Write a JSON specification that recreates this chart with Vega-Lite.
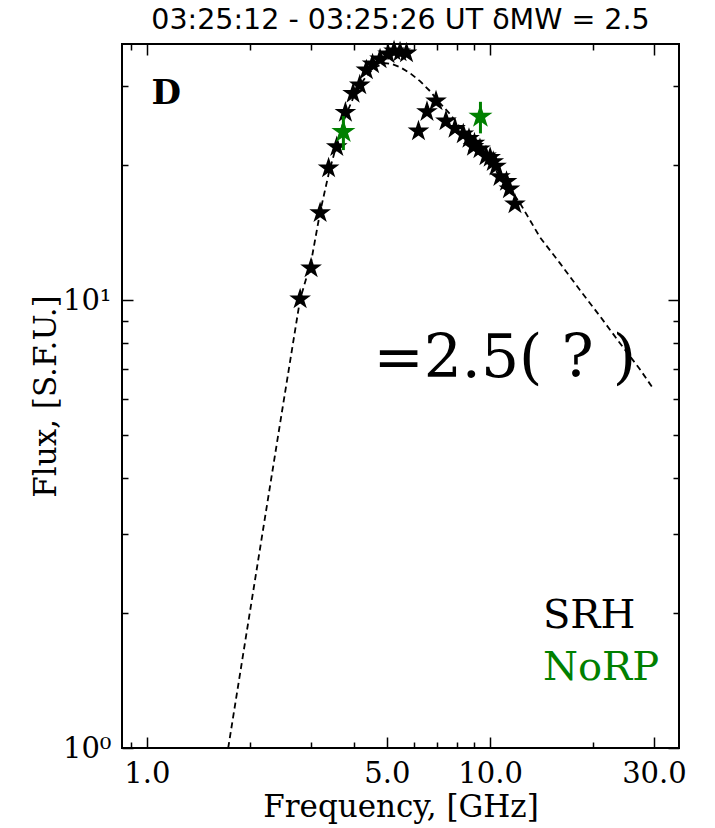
{
  "$schema": "https://vega.github.io/schema/vega-lite/v6.json",
  "width": 557,
  "height": 704,
  "autosize": {"type": "none"},
  "padding": {"left": 122, "top": 44, "right": 36, "bottom": 80},
  "background": "white",
  "title": {"text": "03:25:12 - 03:25:26 UT δMW = 2.5", "font": "DejaVu Sans", "fontSize": 28.5, "fontWeight": "normal", "color": "black", "offset": 5, "anchor": "middle"},
  "config": {
    "view": {"stroke": "black", "strokeWidth": 2},
    "axis": {"domain": false, "grid": false, "tickColor": "black", "tickWidth": 1.5, "labelColor": "black", "titleColor": "black", "labelFont": "DejaVu Serif", "titleFont": "DejaVu Serif", "titleFontWeight": "normal", "labelFlush": false, "labelOverlap": false}
  },
  "datasets": {
    "fit": [
      {"f": 1.725, "flux": 1.0}, {"f": 1.869, "flux": 1.47}, {"f": 2.137, "flux": 2.796}, {"f": 2.444, "flux": 5.314},
      {"f": 2.795, "flux": 10.05}, {"f": 3.008, "flux": 12.16}, {"f": 3.196, "flux": 15.72}, {"f": 3.394, "flux": 19.31},
      {"f": 3.581, "flux": 22.41}, {"f": 3.779, "flux": 25.62}, {"f": 3.987, "flux": 28.24}, {"f": 4.178, "flux": 30.19},
      {"f": 4.379, "flux": 31.78}, {"f": 4.619, "flux": 33.12}, {"f": 4.941, "flux": 33.81}, {"f": 5.178, "flux": 33.64},
      {"f": 5.464, "flux": 33.12}, {"f": 5.842, "flux": 32.11}, {"f": 6.248, "flux": 30.82}, {"f": 6.68, "flux": 29.28},
      {"f": 7.143, "flux": 27.53}, {"f": 7.638, "flux": 26.02}, {"f": 8.167, "flux": 24.33}, {"f": 8.734, "flux": 22.88},
      {"f": 9.339, "flux": 21.51}, {"f": 9.986, "flux": 20.22}, {"f": 10.68, "flux": 18.92}, {"f": 11.42, "flux": 17.69},
      {"f": 12.21, "flux": 16.47}, {"f": 13.96, "flux": 13.82}, {"f": 15.97, "flux": 12.09}, {"f": 18.26, "flux": 10.53},
      {"f": 20.88, "flux": 9.21}, {"f": 23.87, "flux": 8.02}, {"f": 27.3, "flux": 7.01}, {"f": 29.78, "flux": 6.36}
    ],
    "srh": [
      {"f": 2.795, "flux": 10.05}, {"f": 3.008, "flux": 11.79}, {"f": 3.196, "flux": 15.66}, {"f": 3.383, "flux": 19.71},
      {"f": 3.574, "flux": 21.99}, {"f": 3.787, "flux": 26.24}, {"f": 3.987, "flux": 28.93}, {"f": 4.17, "flux": 30.19},
      {"f": 4.359, "flux": 32.62}, {"f": 4.544, "flux": 33.64}, {"f": 4.778, "flux": 34.51}, {"f": 5.042, "flux": 35.41},
      {"f": 5.248, "flux": 35.96}, {"f": 5.464, "flux": 35.78}, {"f": 5.706, "flux": 35.59},
      {"f": 6.183, "flux": 23.84}, {"f": 6.546, "flux": 26.33}, {"f": 6.955, "flux": 27.81}, {"f": 7.434, "flux": 25.09},
      {"f": 7.899, "flux": 24.17}, {"f": 8.35, "flux": 23.48}, {"f": 8.676, "flux": 22.94}, {"f": 8.942, "flux": 22.01},
      {"f": 9.0, "flux": 22.4}, {"f": 9.339, "flux": 21.74}, {"f": 9.723, "flux": 20.96}, {"f": 10.0, "flux": 20.8},
      {"f": 10.21, "flux": 20.36}, {"f": 10.4, "flux": 19.9}, {"f": 10.68, "flux": 18.85}, {"f": 11.16, "flux": 18.39},
      {"f": 11.38, "flux": 17.69}, {"f": 11.81, "flux": 16.38}
    ],
    "norp": [
      {"f": 3.736, "flux": 23.75, "lo": 21.62, "hi": 25.75},
      {"f": 9.37, "flux": 25.68, "lo": 23.56, "hi": 27.71}
    ],
    "legendtext": [
      {"f": 14.25, "flux": 1.853, "text": "SRH", "c": "black"},
      {"f": 14.25, "flux": 1.419, "text": "NoRP", "c": "green"}
    ]
  },
  "layer": [
    {
      "data": {"name": "fit"},
      "mark": {"type": "line", "color": "black", "strokeWidth": 1.8, "strokeDash": [6, 4], "clip": true},
      "encoding": {
        "x": {"field": "f", "type": "quantitative", "scale": {"type": "log", "domain": [0.846, 35.5], "nice": false},
          "axis": {"orient": "bottom", "values": [1, 5, 10, 30], "tickSize": -11, "labelPadding": 22, "labelFontSize": 29, "labelExpr": "format(datum.value, '.1f')", "title": "Frequency, [GHz]", "titleFontSize": 31, "titlePadding": 4}},
        "y": {"field": "flux", "type": "quantitative", "scale": {"type": "log", "domain": [1, 37.3], "nice": false},
          "axis": {"orient": "left", "values": [1, 10], "tickSize": -11, "labelPadding": 22, "labelFontSize": 29, "labelExpr": "datum.value == 1 ? '10⁰' : '10¹'", "title": "Flux, [S.F.U.]", "titleFontSize": 31, "titlePadding": 0}}
      }
    },
    {
      "data": {"name": "srh"},
      "mark": {"type": "point", "shape": "M0,-1L0.2245,-0.309L0.9511,-0.309L0.3633,0.118L0.5878,0.809L0,0.382L-0.5878,0.809L-0.3633,0.118L-0.9511,-0.309L-0.2245,-0.309Z", "filled": true, "color": "black", "size": 520, "opacity": 1},
      "encoding": {
        "x": {"field": "f", "type": "quantitative", "axis": {"orient": "top", "values": [1, 5, 10, 30], "tickSize": -11, "labels": false, "title": null}},
        "y": {"field": "flux", "type": "quantitative", "axis": {"orient": "right", "values": [1, 10], "tickSize": -11, "labels": false, "title": null}}
      }
    },
    {
      "data": {"name": "norp"},
      "mark": {"type": "rule", "color": "green", "strokeWidth": 3},
      "encoding": {
        "x": {"field": "f", "type": "quantitative", "axis": {"orient": "bottom", "values": [0.9, 2, 3, 4, 6, 7, 8, 9, 20], "tickSize": -6, "labels": false, "title": null}},
        "y": {"field": "lo", "type": "quantitative", "axis": {"orient": "left", "values": [2, 3, 4, 5, 6, 7, 8, 9, 20, 30], "tickSize": -6, "labels": false, "title": null}},
        "y2": {"field": "hi"}
      }
    },
    {
      "data": {"name": "norp"},
      "mark": {"type": "point", "shape": "M0,-1L0.2245,-0.309L0.9511,-0.309L0.3633,0.118L0.5878,0.809L0,0.382L-0.5878,0.809L-0.3633,0.118L-0.9511,-0.309L-0.2245,-0.309Z", "filled": true, "color": "green", "size": 640, "opacity": 1},
      "encoding": {
        "x": {"field": "f", "type": "quantitative", "axis": {"orient": "top", "values": [0.9, 2, 3, 4, 6, 7, 8, 9, 20], "tickSize": -6, "labels": false, "title": null}},
        "y": {"field": "flux", "type": "quantitative", "axis": {"orient": "right", "values": [2, 3, 4, 5, 6, 7, 8, 9, 20, 30], "tickSize": -6, "labels": false, "title": null}}
      }
    },
    {
      "data": {"values": [{"f": 1.138, "flux": 28.83, "text": "D"}]},
      "mark": {"type": "text", "font": "DejaVu Serif", "fontWeight": "bold", "fontSize": 34, "align": "center", "baseline": "middle", "color": "black"},
      "encoding": {
        "x": {"field": "f", "type": "quantitative", "axis": null},
        "y": {"field": "flux", "type": "quantitative", "axis": null},
        "text": {"field": "text"}
      }
    },
    {
      "data": {"values": [{"f": 4.57, "flux": 6.73, "text": "=2.5( ? )"}]},
      "mark": {"type": "text", "font": "DejaVu Serif", "fontSize": 60, "align": "left", "baseline": "alphabetic", "color": "black"},
      "encoding": {
        "x": {"field": "f", "type": "quantitative", "axis": null},
        "y": {"field": "flux", "type": "quantitative", "axis": null},
        "text": {"field": "text"}
      }
    },
    {
      "data": {"name": "legendtext"},
      "mark": {"type": "text", "font": "DejaVu Serif", "fontSize": 40, "align": "left", "baseline": "alphabetic"},
      "encoding": {
        "x": {"field": "f", "type": "quantitative", "axis": null},
        "y": {"field": "flux", "type": "quantitative", "axis": null},
        "text": {"field": "text"},
        "color": {"field": "c", "type": "nominal", "scale": null}
      }
    }
  ],
  "resolve": {"axis": {"x": "independent", "y": "independent"}}
}
